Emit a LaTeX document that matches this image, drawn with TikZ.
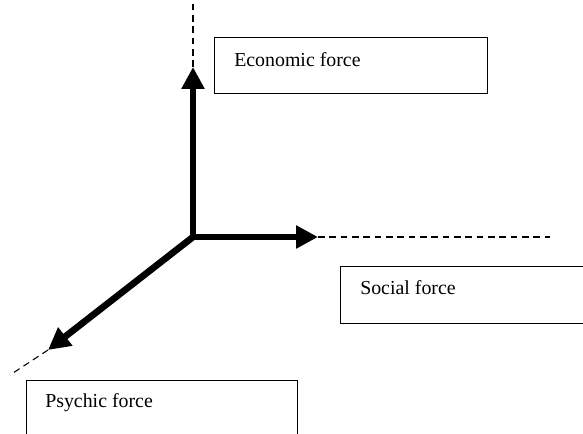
\documentclass[tikz,border=0pt]{standalone}
\usepackage{fontspec}
\setmainfont{Liberation Serif}
\usetikzlibrary{arrows.meta}
\usetikzlibrary{positioning}

\begin{document}
\begin{tikzpicture}
  [x=0.75pt, y=-0.75pt,
   forcebox/.style = {draw, line width=1pt, anchor=north west, inner sep=0pt},
   forcelabel/.style = {anchor=base west, inner sep=0pt, font=\fontsize{14.9}{18}\selectfont},
   forcearrow/.style = {line width=5pt, line cap=rect, -{Triangle[length=16.5pt, width=16.5pt]}},
   guide/.style = {line width=0.8pt, dash pattern=on 5pt off 3.5pt}]
  \useasboundingbox (0,0) rectangle (583,434);

  \coordinate (o) at (193,237);
  \coordinate (econtip) at (193,67);
  \coordinate (econend) at (193,0);
  \coordinate (socialtip) at (318,237);
  \coordinate (socialend) at (550,237);
  \coordinate (psychictip) at (48,350);
  \coordinate (psychicend) at (10,375);

  \node (econbox) [forcebox, minimum width=204.75pt, minimum height=42pt] at (214,37) {};
  \node (socialbox) [forcebox, minimum width=225pt, minimum height=42.75pt] at (340,266) {};
  \node (psychicbox) [forcebox, minimum width=203.25pt, minimum height=60pt] at (26,380) {};

  \node (econ) [forcelabel] at (234,67) {Economic force};
  \node (social) [forcelabel] at (360,295) {Social force};
  \node (psychic) [forcelabel] at (45,408) {Psychic force};

  \draw [guide] (econtip) -- (econend);
  \draw [guide] (socialtip) -- (socialend);
  \draw [guide] (psychictip) -- (psychicend);

  \draw [forcearrow] (o) -- (econtip);
  \draw [forcearrow] (o) -- (socialtip);
  \draw [forcearrow] (o) -- (psychictip);
\end{tikzpicture}
\end{document}
